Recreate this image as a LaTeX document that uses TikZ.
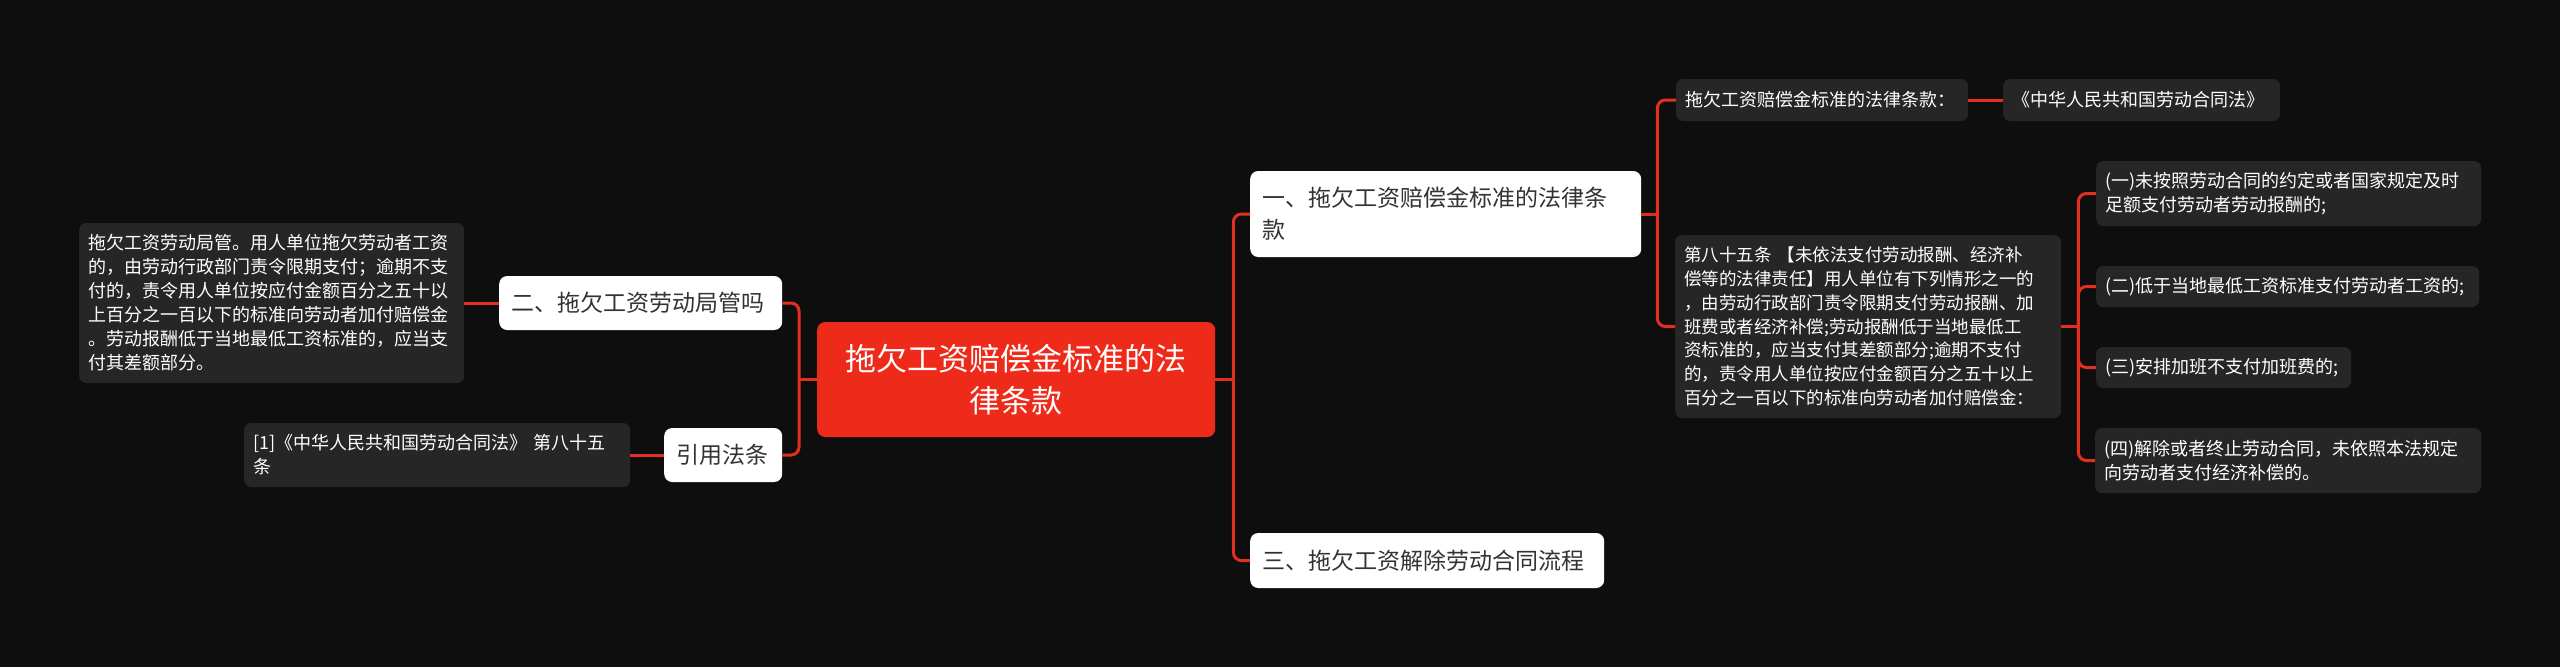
\documentclass[tikz,border=0pt]{standalone}
\usepackage{tikz}
\usepackage{fontspec}
\setmainfont{Noto Sans CJK SC}
\definecolor{bgdark}{RGB}{14,14,14}
\definecolor{rootred}{RGB}{238,42,26}
\definecolor{wirered}{RGB}{226,48,32}
\definecolor{leafgray}{RGB}{38,38,38}
\definecolor{topicink}{RGB}{51,51,51}

\begin{document}
\begin{tikzpicture}[x=1pt,y=-1pt,
  hub/.style={fill=rootred,text=white,rounded corners=8pt,anchor=west,align=center,inner xsep=20pt,inner ysep=0pt,font=\fontsize{31}{42}\selectfont},
  topic/.style={fill=white,text=topicink,rounded corners=8pt,anchor=west,align=left,inner xsep=12pt,inner ysep=0pt,font=\fontsize{23}{32}\selectfont},
  leaf/.style={fill=leafgray,text=white,rounded corners=7pt,anchor=west,align=left,inner xsep=9pt,inner ysep=0pt,font=\fontsize{18}{24}\selectfont},
  wire/.style={draw=wirered,line width=3pt,rounded corners=8pt}]
\fill[bgdark] (0,0) rectangle (2560,667);
\node[hub,text width=358pt,minimum height=115pt] (root) at (817,379.5) {拖欠工资赔偿金标准的法\\律条款};
\node[topic,text width=259pt,minimum height=54pt] (two) at (499,303) {二、拖欠工资劳动局管吗};
\node[topic,text width=94pt,minimum height=54pt] (cite) at (664,455) {引用法条};
\node[leaf,text width=367pt,minimum height=160pt] (note) at (79,303) {拖欠工资劳动局管。用人单位拖欠劳动者工资\\的，由劳动行政部门责令限期支付；逾期不支\\付的，责令用人单位按应付金额百分之五十以\\上百分之一百以下的标准向劳动者加付赔偿金\\。劳动报酬低于当地最低工资标准的，应当支\\付其差额部分。};
\node[leaf,text width=368pt,minimum height=64pt] (ref) at (244,455) {[1]《中华人民共和国劳动合同法》 第八十五\\条};
\node[topic,text width=367pt,minimum height=86pt] (one) at (1250,214) {一、拖欠工资赔偿金标准的法律条\\款};
\node[topic,text width=330pt,minimum height=55pt] (three) at (1250,560.5) {三、拖欠工资解除劳动合同流程};
\node[leaf,text width=274pt,minimum height=42pt] (law) at (1676,100) {拖欠工资赔偿金标准的法律条款：};
\node[leaf,text width=259pt,minimum height=42pt] (act) at (2003,100) {《中华人民共和国劳动合同法》};
\node[leaf,text width=368pt,minimum height=183pt,font=\fontsize{17.5}{23.8}\selectfont] (art) at (1675,326.5) {第八十五条 【未依法支付劳动报酬、经济补\\偿等的法律责任】用人单位有下列情形之一的\\，由劳动行政部门责令限期支付劳动报酬、加\\班费或者经济补偿;劳动报酬低于当地最低工\\资标准的，应当支付其差额部分;逾期不支付\\的，责令用人单位按应付金额百分之五十以上\\百分之一百以下的标准向劳动者加付赔偿金：};
\node[leaf,text width=367pt,minimum height=65pt] (c1) at (2096,193.5) {(一)未按照劳动合同的约定或者国家规定及时\\足额支付劳动者劳动报酬的;};
\node[leaf,text width=365pt,minimum height=41pt] (c2) at (2096,286.5) {(二)低于当地最低工资标准支付劳动者工资的;};
\node[leaf,text width=237pt,minimum height=41pt] (c3) at (2096,367.5) {(三)安排加班不支付加班费的;};
\node[leaf,text width=368pt,minimum height=65pt] (c4) at (2095,460.5) {(四)解除或者终止劳动合同，未依照本法规定\\向劳动者支付经济补偿的。};
\coordinate (ls) at ([xshift=-18pt]root.west);
\coordinate (rs) at ([xshift=18pt]root.east);
\coordinate (os) at ([xshift=16pt]one.east);
\coordinate (as) at ([xshift=17pt]art.east);
\draw[wire] (root.west) -- (ls);
\draw[wire] (ls) |- (two.east);
\draw[wire] (ls) |- (cite.east);
\draw[wire] (two.west) -- (note.east);
\draw[wire] (cite.west) -- (ref.east);
\draw[wire] (root.east) -- (rs);
\draw[wire] (rs) |- (one.west);
\draw[wire] (rs) |- (three.west);
\draw[wire] (one.east) -- (os);
\draw[wire] (os) |- (law.west);
\draw[wire] (os) |- (art.west);
\draw[wire] (law.east) -- (act.west);
\draw[wire] (art.east) -- (as);
\draw[wire] (as) |- (c1.west);
\draw[wire] (as) |- (c2.west);
\draw[wire] (as) |- (c3.west);
\draw[wire] (as) |- (c4.west);
\end{tikzpicture}
\end{document}
